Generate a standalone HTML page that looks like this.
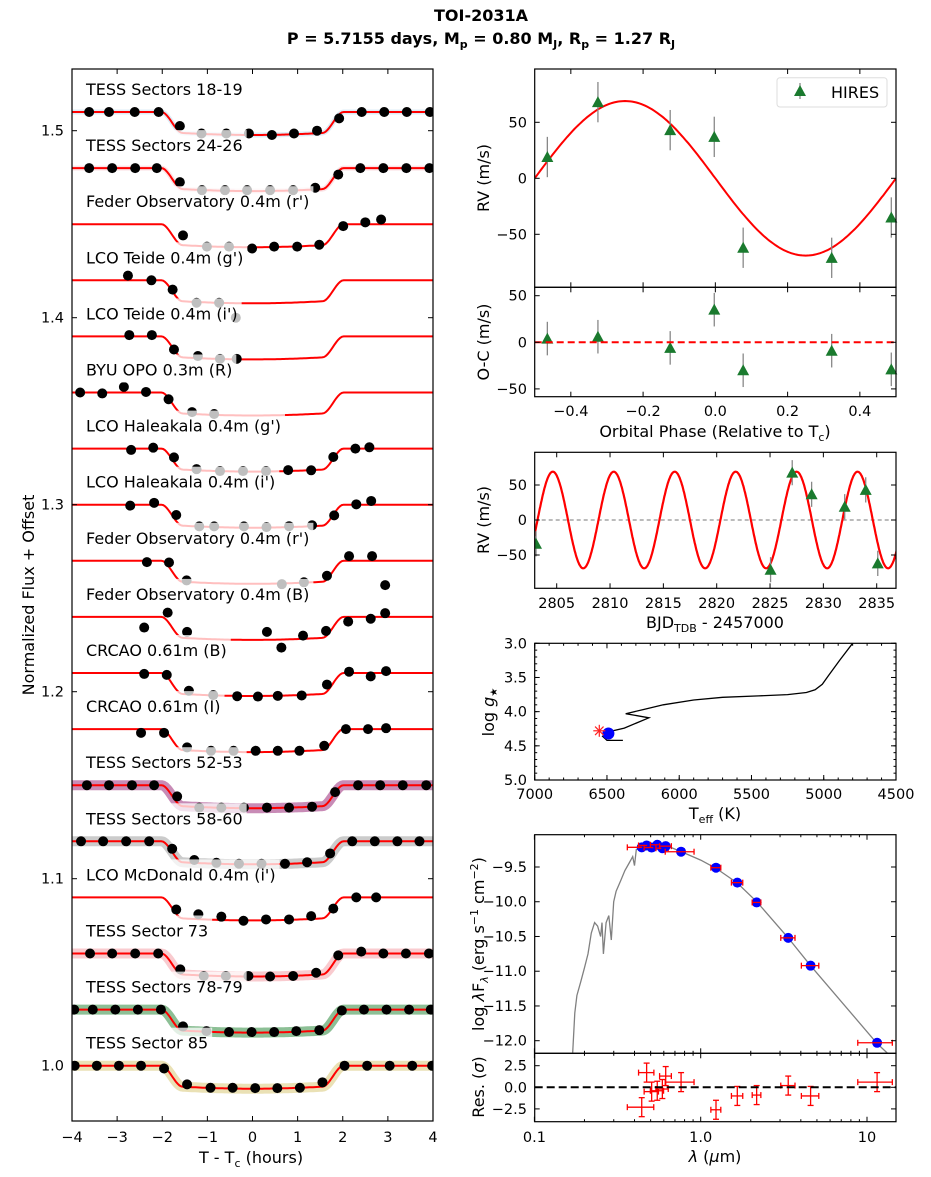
<!DOCTYPE html>
<html><head><meta charset="utf-8"><style>
html,body{margin:0;padding:0;background:#fff;}
svg{display:block;font-family:"DejaVu Sans","Liberation Sans",sans-serif;}
</style></head><body>
<svg id="fig" width="931" height="1177" viewBox="0 0 931 1177" xmlns="http://www.w3.org/2000/svg">
<rect width="931" height="1177" fill="#fff"/>
<text x="481" y="21" text-anchor="middle" font-size="16" font-weight="bold">TOI-2031A</text>
<text x="481" y="44" text-anchor="middle" font-size="16" font-weight="bold">P = 5.7155 days, M<tspan font-size="11" dy="4">p</tspan><tspan dy="-4"> = 0.80 M</tspan><tspan font-size="11" dy="4">J</tspan><tspan dy="-4">, R</tspan><tspan font-size="11" dy="4">p</tspan><tspan dy="-4"> = 1.27 R</tspan><tspan font-size="11" dy="4">J</tspan></text>
</svg>
<script>
// ---------- Light-curve data ----------
const lcLabels = ["TESS Sectors 18-19","TESS Sectors 24-26","Feder Observatory 0.4m (r')","LCO Teide 0.4m (g')","LCO Teide 0.4m (i')","BYU OPO 0.3m (R)","LCO Haleakala 0.4m (g')","LCO Haleakala 0.4m (i')","Feder Observatory 0.4m (r')","Feder Observatory 0.4m (B)","CRCAO 0.61m (B)","CRCAO 0.61m (I)","TESS Sectors 52-53","TESS Sectors 58-60","LCO McDonald 0.4m (i')","TESS Sector 73","TESS Sectors 78-79","TESS Sector 85"];
const lcOffsets = [1.51,1.48,1.45,1.42,1.39,1.36,1.33,1.30,1.27,1.24,1.21,1.18,1.15,1.12,1.09,1.06,1.03,1.00];
const lcBandColors = ["#9ec9e8","#f4b0b8",null,null,null,null,null,null,null,null,null,null,"#9b2b7a","#a0a0a0",null,"#f4a0a8","#2e8b3e","#d8c878"];
const lcTimes = [
[-3.62,-3.18,-2.61,-2.08,-1.61,-1.13,-0.58,-0.08,0.43,0.92,1.43,1.92,2.42,2.92,3.42,3.93],
[-3.62,-3.11,-2.60,-2.12,-1.61,-1.12,-0.61,-0.12,0.39,0.90,1.39,1.90,2.39,2.90,3.41,3.92],
[-1.54,-1.01,-0.52,-0.01,0.48,0.99,1.48,2.01,2.50,2.85],
[-2.76,-2.24,-1.77,-1.24,-0.74,-0.37],
[-2.73,-2.23,-1.74,-1.21,-0.72,-0.35],
[-3.82,-3.33,-2.85,-2.36,-1.86,-1.34,-0.85],
[-2.69,-2.2,-1.74,-1.24,-0.72,-0.21,0.30,0.79,1.30,1.79,2.28,2.59],
[-2.71,-2.18,-1.69,-1.18,-0.85,-0.19,0.31,0.81,1.32,1.81,2.30,2.63],
[-2.34,-1.85,-1.46,0.65,1.14,1.65,2.14,2.65],
[-2.40,-1.88,-1.45,0.32,0.64,1.12,1.63,2.12,2.62,2.94,2.94],
[-2.40,-1.9,-1.41,-0.87,-0.34,0.12,0.56,1.09,1.65,2.14,2.62,2.96],
[-2.47,-1.96,-1.45,-0.92,-0.42,0.07,0.56,1.04,1.59,2.07,2.56,2.96],
[-3.67,-3.18,-2.67,-2.18,-1.67,-1.18,-0.69,-0.19,0.32,0.81,1.32,1.83,2.34,2.83,3.33,3.85],
[-3.8,-3.31,-2.8,-2.29,-1.78,-1.29,-0.8,-0.3,0.2,0.72,1.21,1.72,2.21,2.71,3.21,3.7],
[-1.69,-1.2,-0.69,-0.2,0.3,0.81,1.3,1.79,2.3,2.74],
[-3.6,-3.11,-2.6,-2.09,-1.6,-1.08,-0.59,-0.09,0.39,0.9,1.41,1.9,2.41,2.9,3.4,3.91],
[-3.95,-3.54,-3.04,-2.54,-2.03,-1.54,-1.02,-0.52,-0.02,0.48,0.97,1.48,1.98,2.47,2.97,3.47,3.95],
[-3.94,-3.45,-2.96,-2.47,-1.96,-1.45,-0.93,-0.44,0.06,0.55,1.05,1.55,2.04,2.54,3.04,3.54,3.98]];
const lcDeltasPpt = [
[0,0,0,0,-7.5,-11.5,-11.5,-11.5,-12.3,-11.5,-10,-3.4,0,0,0,0],
[0,0,0,0,-7.5,-11.8,-11.8,-11.8,-11.8,-11.8,-10.5,-3.5,0,0,0,0],
[-6,-12,-12,-13,-12,-12,-11,-1,1,2.5],
[2.5,0,-5,-12,-12,-20],
[0.7,0.7,-7,-10.5,-12,-12],
[0,-0.5,3,0.3,-3.6,-10.5,-11.5],
[-0.7,0.5,-4.7,-11,-12,-12,-12,-11.5,-11.6,-4.5,0,0.7],
[-0.5,1,-5.5,-11.6,-11.6,-11.6,-12,-11.5,-11,-5.7,0.2,2],
[-0.7,-0.9,-10.5,-12.5,-11.5,-8,2.5,2.5],
[-5.7,2.3,-8,-8,-16.4,-10,-7.5,-2.5,-1,2,17],
[-0.5,-1,-9.5,-11.8,-12.4,-12.6,-12.2,-12,-6.2,0.7,-1.8,1],
[-2,-2,-9.8,-11.6,-11.6,-11.6,-11.6,-11.6,-8.9,0,0,0.5],
[0,0,0,0,-6,-12,-12,-12,-12,-12,-11.5,-3.7,0,0,0,0],
[0,0,0,0,-4,-10,-11.5,-12,-12,-12,-11.2,-6.5,0,0,0,0],
[-6.5,-9,-10.3,-12.5,-11.8,-11.8,-10,-6,0,0],
[0,0,0,0,-8.5,-12,-12,-12,-12.3,-12,-10.3,-1,1,0,0,0],
[0,0,0,0,0,-9,-11.5,-12,-12,-12,-11.5,-11,-0.5,0,0,0,0],
[0,0,0,0,-1.5,-10,-11.8,-11.8,-12,-12,-11.8,-8.9,0,0,0,0,0]];
const lcTicksX = [-4,-3,-2,-1,0,1,2,3,4];
const lcTicksY = [1.0,1.1,1.2,1.3,1.4,1.5];
const transitDepthPpt = 12.3;

// ---------- RV phase data ----------
const rvPhase = [-0.465,-0.325,-0.125,-0.003,0.077,0.322,0.487];
const rvValues = [19,68,43,37,-62,-71,-35];
const rvErrors = [18,18,18,18,18,18,18];
const ocValues = [4,6,-6,35,-30,-9,-29];
const rvK = 69;
const phaseTicks = [-0.4,-0.2,0.0,0.2,0.4];
const rvTicks = [-50,0,50];
// ---------- RV time data ----------
const rvTimes = [2803.06,2825.05,2827.08,2828.9,2832.0,2833.97,2835.1];
const rvTimeValues = [-34,-71,67.6,36.7,19,43,-62];
const rvPeriod = 5.7155;
const rvTc = 2806.06;
const timeTicks = [2805,2810,2815,2820,2825,2830,2835];
// ---------- HR diagram ----------
const trackTeff = [6390,6500,6530,6480,6380,6210,6370,6250,6110,5900,5700,5450,5250,5120,5060,5010,4970,4890,4800];
const trackLogg = [4.42,4.42,4.36,4.29,4.24,4.09,4.03,3.97,3.90,3.83,3.79,3.77,3.75,3.72,3.68,3.60,3.48,3.25,3.0];
const starTeff = 6490, starLogg = 4.32;
const obsTeff = 6553, obsLogg = 4.28;
const teffTicks = [7000,6500,6000,5500,5000,4500];
const loggTicks = [3.0,3.5,4.0,4.5,5.0];
// ---------- SED ----------
const sedLam = [0.442,0.473,0.507,0.548,0.588,0.616,0.762,1.236,1.66,2.17,3.36,4.58,11.5];
const sedFlux = [-9.217,-9.19,-9.22,-9.18,-9.23,-9.20,-9.28,-9.51,-9.725,-10.01,-10.52,-10.92,-12.03];
const sedLamErr = [0.08,0.05,0.05,0.05,0.05,0.05,0.15,0.085,0.13,0.13,0.33,0.55,2.7];
const sedRes = [-2.3,1.7,-0.5,-0.4,-0.2,1.3,0.6,-2.6,-1.0,-0.9,0.2,-1.0,0.6];
const sedResErr = [1.1,1.1,1.1,1.1,1.1,1.1,1.1,1.1,1.1,1.1,1.1,1.1,1.1];
const modelLam = [0.17,0.175,0.18,0.19,0.2,0.21,0.22,0.23,0.24,0.25,0.255,0.26,0.27,0.28,0.29,0.3,0.31,0.33,0.35,0.37,0.39,0.40,0.41,0.45,0.5,0.55,0.65,0.8,1.0,1.24,1.66,2.17,3.36,4.58,11.5,15];
const modelFlux = [-12.17,-11.6,-11.35,-11.15,-10.95,-10.75,-10.45,-10.3,-10.35,-10.5,-10.3,-10.75,-10.3,-10.2,-10.55,-10.0,-9.85,-9.7,-9.55,-9.45,-9.35,-9.48,-9.25,-9.2,-9.17,-9.17,-9.21,-9.3,-9.4,-9.52,-9.73,-10.0,-10.52,-10.92,-12.04,-12.3];
const sedTicksY = [-9.5,-10.0,-10.5,-11.0,-11.5,-12.0];
const resTicksY = [2.5,0.0,-2.5];
const lamTicks = [0.1,1.0,10];

// ---------- helpers ----------
const NS = "http://www.w3.org/2000/svg";
const svg = document.getElementById('fig');
function mk(tag, attrs, parent){ const e = document.createElementNS(NS, tag); for (const k in attrs) e.setAttribute(k, attrs[k]); (parent||svg).appendChild(e); return e; }
function lin(d0,d1,p0,p1){ return v => p0 + (v-d0)*(p1-p0)/(d1-d0); }
function frame(x0,y0,x1,y1,name){
  const r = mk('rect',{x:x0,y:y0,width:x1-x0,height:y1-y0,fill:'none',stroke:'#000','stroke-width':1.2});
  
  
}
function xticks(vals,X,y0,y1,len,labels,labY,fmt,g){
  vals.forEach(v=>{
    const x = X(v);
    mk('line',{x1:x,x2:x,y1:y1,y2:y1-len,stroke:'#000','stroke-width':1},g);
    mk('line',{x1:x,x2:x,y1:y0,y2:y0+len,stroke:'#000','stroke-width':1},g);
    if (labels){
      const t = mk('text',{x:x,y:labY,'text-anchor':'middle','font-size':14.5},g);
      t.textContent = fmt(v);
      
      
    }
  });
}
function yticks(vals,Y,x0,x1,len,labels,labX,fmt,g){
  vals.forEach(v=>{
    const y = Y(v);
    mk('line',{x1:x0,x2:x0+len,y1:y,y2:y,stroke:'#000','stroke-width':1},g);
    mk('line',{x1:x1,x2:x1-len,y1:y,y2:y,stroke:'#000','stroke-width':1},g);
    if (labels){
      const t = mk('text',{x:labX,y:y+5,'text-anchor':'end','font-size':14.5},g);
      t.textContent = fmt(v);
      
      
    }
  });
}
function minus(s){ return String(s).replace('-','\u2212'); }
function triangle(cx,cy,g,fill){
  return mk('polygon',{points:`${cx},${cy-6} ${cx-6},${cy+5} ${cx+6},${cy+5}`,fill:fill||'#1a7a2e'},g);
}
function lineText(x,y,txt,size,anchor,rot,g){
  const t = mk('text',{x:x,y:y,'font-size':size,'text-anchor':anchor||'middle'},g);
  if (rot) t.setAttribute('transform',`rotate(-90 ${x} ${y})`);
  t.innerHTML = txt;
  return t;
}

// ================= LEFT: light curves =================
const LX = lin(-4,4,72,433);
const LY = f => 1065.7 - (f-1.0)*1870;
function model(t){
  const a = Math.abs(t), t1 = 1.55, t2 = 2.02;
  const edge = transitDepthPpt*(1-0.09);
  if (a >= t2) return 0;
  if (a <= t1) return -transitDepthPpt*(1-0.09*(a/t1)*(a/t1));
  const s = (a-t1)/(t2-t1); const sm = s*s*(3-2*s);
  return -edge*(1-sm);
}
const gL = mk('g',{});  
const clipL = mk('clipPath',{id:'clipL'}); mk('rect',{x:72,y:69,width:361,height:1052},clipL);
const gLC = mk('g',{'clip-path':'url(#clipL)'},gL);
lcOffsets.forEach((off,i)=>{
  const base = LY(off);
  let pts = [];
  for (let t=-4.1; t<=4.1; t+=0.04) pts.push(`${LX(t).toFixed(1)},${(base - model(t)*1.87).toFixed(1)}`);
  if (lcBandColors[i]){
    const thin = i<2;
    const band = mk('polyline',{points:pts.join(' '),fill:'none',stroke:lcBandColors[i],'stroke-width':thin?5:10,'stroke-opacity':thin?0.35:0.55,'stroke-linejoin':'round'},gLC);
    
    
  }
  const ml = mk('polyline',{points:pts.join(' '),fill:'none',stroke:'#ff0000','stroke-width':2},gLC);
  
  
  lcTimes[i].forEach((t,j)=>{
    const c = mk('circle',{cx:LX(t),cy:base - lcDeltasPpt[i][j]*1.87,r:5,fill:'#000'},gLC);
    
    
  });
});
lcOffsets.forEach((off,i)=>{
  const cy = LY(off) - 23;
  const t = mk('text',{x:86,y:cy+6,'font-size':16},gLC);
  t.textContent = lcLabels[i];
  
  
  const w = t.getComputedTextLength();
  const box = mk('rect',{x:82,y:cy-15,width:w+8,height:28,fill:'#fff','fill-opacity':0.75},gLC);
  
  
  gLC.insertBefore(box,t);
});
frame(72,69,433,1121,'light-curve-frame');
xticks(lcTicksX,LX,69,1121,5,true,1142,v=>minus(v),gL);
yticks(lcTicksY,LY,72,433,5,true,64,v=>v.toFixed(1),gL);
let tt = lineText(251,1163,'T - T<tspan font-size="11" dy="4">c</tspan><tspan dy="-4"> (hours)</tspan>',16,'middle',false,gL);
 
tt = lineText(34,595,'Normalized Flux + Offset',16,'middle',true,gL);
 

// ================= RV phase =================
const gR = mk('g',{});  
const PX = lin(-0.5,0.5,534.7,896);
const RY = lin(0,50,178.3,122.3);
const OY = lin(0,50,342.3,295.7);
const clipR = mk('clipPath',{id:'clipR'}); mk('rect',{x:534.7,y:69,width:361.3,height:218.3},clipR);
let pp=[];
for (let p=-0.5;p<=0.5001;p+=0.005) pp.push(`${PX(p).toFixed(1)},${RY(-rvK*Math.sin(2*Math.PI*p)).toFixed(1)}`);
let el = mk('polyline',{points:pp.join(' '),fill:'none',stroke:'#ff0000','stroke-width':2,'clip-path':'url(#clipR)'},gR);


rvPhase.forEach((p,i)=>{
  const x=PX(p);
  mk('line',{x1:x,x2:x,y1:RY(rvValues[i]-rvErrors[i]),y2:RY(rvValues[i]+rvErrors[i]),stroke:'#888','stroke-width':1.3},gR);
  const m = triangle(x,RY(rvValues[i]),gR);
  
  
  mk('line',{x1:x,x2:x,y1:OY(ocValues[i]-rvErrors[i]),y2:OY(ocValues[i]+rvErrors[i]),stroke:'#888','stroke-width':1.3},gR);
  const o = triangle(x,OY(ocValues[i]),gR);
  
  
});
el = mk('line',{x1:534.7,x2:896,y1:OY(0),y2:OY(0),stroke:'#ff0000','stroke-width':2,'stroke-dasharray':'7,4'},gR);


frame(534.7,69,896,287.3,'rv-frame');
frame(534.7,287.3,896,396.7,'oc-frame');
xticks(phaseTicks,PX,69,287.3,5,false,0,null,gR);
xticks(phaseTicks,PX,287.3,396.7,5,true,416,v=>minus(v.toFixed(1)),gR);
yticks(rvTicks,RY,534.7,896,5,true,527,v=>minus(v),gR);
yticks(rvTicks,OY,534.7,896,5,true,527,v=>minus(v),gR);
tt = lineText(715,437,'Orbital Phase (Relative to T<tspan font-size="11" dy="4">c</tspan><tspan dy="-4">)</tspan>',16,'middle',false,gR);
 
tt = lineText(489,178,'RV (m/s)',16,'middle',true,gR);
 
tt = lineText(489,342,'O-C (m/s)',16,'middle',true,gR);
 
const leg = mk('g',{},gR);  
mk('rect',{x:777,y:77.7,width:110,height:29.3,rx:3,fill:'#fff',stroke:'#ddd'},leg);
mk('line',{x1:800,x2:800,y1:83,y2:99,stroke:'#888','stroke-width':1.3},leg);
el = triangle(800,91,leg);  
el = lineText(831,98,'HIRES',16,'start',false,leg);  

// ================= RV time =================
const gT = mk('g',{});  
const TX = lin(2805,2835,556.7,876.7);
const TY = lin(0,50,520,485);
const clipT = mk('clipPath',{id:'clipT'}); mk('rect',{x:534.7,y:452.3,width:361.3,height:136},clipT);
el = mk('line',{x1:534.7,x2:896,y1:TY(0),y2:TY(0),stroke:'#777','stroke-width':1,'stroke-dasharray':'4,3'},gT);
 
pp=[];
for (let t=2802.9;t<=2836.9;t+=0.04) pp.push(`${TX(t).toFixed(1)},${TY(-rvK*Math.sin(2*Math.PI*(t-rvTc)/rvPeriod)).toFixed(1)}`);
el = mk('polyline',{points:pp.join(' '),fill:'none',stroke:'#ff0000','stroke-width':2.2,'clip-path':'url(#clipT)'},gT);
 
const gTP = mk('g',{'clip-path':'url(#clipT)'},gT);
rvTimes.forEach((t,i)=>{
  const x=TX(t);
  mk('line',{x1:x,x2:x,y1:TY(rvTimeValues[i]-18),y2:TY(rvTimeValues[i]+18),stroke:'#888','stroke-width':1.3},gTP);
  const m = triangle(x,TY(rvTimeValues[i]),gTP);
  
  
});
frame(534.7,452.3,896,588.3,'rv-time-frame');
xticks(timeTicks,TX,452.3,588.3,5,true,608,v=>String(v),gT);
yticks(rvTicks,TY,534.7,896,5,true,527,v=>minus(v),gT);
tt = lineText(715,628,'BJD<tspan font-size="11" dy="4">TDB</tspan><tspan dy="-4"> - 2457000</tspan>',16,'middle',false,gT);
 
tt = lineText(489,520,'RV (m/s)',16,'middle',true,gT);
 

// ================= HR diagram =================
const gH = mk('g',{});  
const HX = lin(7000,4500,534.7,896);
const HY = lin(3,5,643.3,780);
const clipH = mk('clipPath',{id:'clipH'}); mk('rect',{x:534.7,y:643.3,width:361.3,height:136.7},clipH);
el = mk('polyline',{points:trackTeff.map((t,i)=>`${HX(t).toFixed(1)},${HY(trackLogg[i]).toFixed(1)}`).join(' '),fill:'none',stroke:'#000','stroke-width':1.3,'clip-path':'url(#clipH)'},gH);
 
el = mk('circle',{cx:HX(starTeff),cy:HY(starLogg),r:6,fill:'#0000ff'},gH);
 
const ast = mk('g',{stroke:'#ff2020','stroke-width':1.2},gH);
 
for (let k=0;k<4;k++){ const a=k*Math.PI/4; const cx=HX(obsTeff), cy=HY(obsLogg);
  mk('line',{x1:cx-6*Math.cos(a),y1:cy-6*Math.sin(a),x2:cx+6*Math.cos(a),y2:cy+6*Math.sin(a)},ast); }
frame(534.7,643.3,896,780,'hr-frame');
const teffMinor=[]; for(let v=7000; v>=4500; v-=100) teffMinor.push(v);
const loggMinor=[]; for(let v=3.0; v<=5.001; v+=0.1) loggMinor.push(v);
xticks(teffMinor,HX,643.3,780,2.5,false,0,null,gH);
yticks(loggMinor,HY,534.7,896,2.5,false,0,null,gH);
xticks(teffTicks,HX,643.3,780,5,true,799,v=>String(v),gH);
yticks(loggTicks,HY,534.7,896,5,true,527,v=>v.toFixed(1),gH);
tt = lineText(715,819,'T<tspan font-size="11" dy="4">eff</tspan><tspan dy="-4"> (K)</tspan>',16,'middle',false,gH);
 
tt = lineText(494,712,'log<tspan font-style="italic"> g</tspan><tspan font-size="10" dy="3">★</tspan>',16,'middle',true,gH);
 

// ================= SED =================
const gS = mk('g',{});  
const SX = l => 700.7 + Math.log10(l)*166.3;
const SY = lin(-9.5,-12,867,1040.7);
const RSY = lin(0,2.5,1087.3,1065.7);
const clipS = mk('clipPath',{id:'clipS'}); mk('rect',{x:534.7,y:834.7,width:361.3,height:218.6},clipS);
el = mk('polyline',{points:modelLam.map((l,i)=>`${SX(l).toFixed(1)},${SY(modelFlux[i]).toFixed(1)}`).join(' '),fill:'none',stroke:'#808080','stroke-width':1.3,'clip-path':'url(#clipS)'},gS);
 
sedLam.forEach((l,i)=>{
  const x=SX(l), y=SY(sedFlux[i]);
  const c = mk('circle',{cx:x,cy:y,r:5,fill:'#0000ff'},gS);
  
  
  const xl=SX(l-sedLamErr[i]), xr=SX(l+sedLamErr[i]);
  mk('line',{x1:xl,x2:xr,y1:y,y2:y,stroke:'#ff0000','stroke-width':1.3},gS);
  mk('line',{x1:xl,x2:xl,y1:y-3,y2:y+3,stroke:'#ff0000','stroke-width':1.3},gS);
  mk('line',{x1:xr,x2:xr,y1:y-3,y2:y+3,stroke:'#ff0000','stroke-width':1.3},gS);
  const ry=RSY(sedRes[i]);
  const rb = mk('g',{stroke:'#ff0000','stroke-width':1.3},gS);
  
  
  mk('line',{x1:xl,x2:xr,y1:ry,y2:ry},rb);
  mk('line',{x1:xl,x2:xl,y1:ry-3,y2:ry+3},rb);
  mk('line',{x1:xr,x2:xr,y1:ry-3,y2:ry+3},rb);
  const yt=RSY(sedRes[i]+sedResErr[i]), yb=RSY(sedRes[i]-sedResErr[i]);
  mk('line',{x1:x,x2:x,y1:yt,y2:yb},rb);
  mk('line',{x1:x-3,x2:x+3,y1:yt,y2:yt},rb);
  mk('line',{x1:x-3,x2:x+3,y1:yb,y2:yb},rb);
});
el = mk('line',{x1:534.7,x2:896,y1:RSY(0),y2:RSY(0),stroke:'#000','stroke-width':2,'stroke-dasharray':'8,4'},gS);
 
frame(534.7,834.7,896,1053.3,'sed-frame');
frame(534.7,1053.3,896,1121.7,'residual-frame');
const lamMinor=[0.2,0.3,0.4,0.5,0.6,0.7,0.8,0.9,2,3,4,5,6,7,8,9];
xticks(lamMinor,SX,834.7,1053.3,2.5,false,0,null,gS);
xticks(lamMinor,SX,1053.3,1121.7,2.5,false,0,null,gS);
xticks(lamTicks,SX,834.7,1053.3,5,false,0,null,gS);
xticks(lamTicks,SX,1053.3,1121.7,5,true,1142,v=>v===10?'10':v.toFixed(1),gS);
yticks(sedTicksY,SY,534.7,896,5,true,527,v=>minus(v.toFixed(1)),gS);
yticks(resTicksY,RSY,534.7,896,5,true,527,v=>minus(v.toFixed(1)),gS);
tt = lineText(715,1162,'<tspan font-style="italic">λ</tspan> (<tspan font-style="italic">μ</tspan>m)',16,'middle',false,gS);
 
tt = lineText(484,944,'log <tspan font-style="italic">λ</tspan>F<tspan font-size="11" dy="4" font-style="italic">λ</tspan><tspan dy="-4"> (erg s</tspan><tspan font-size="11" dy="-6">−1</tspan><tspan dy="6"> cm</tspan><tspan font-size="11" dy="-6">−2</tspan><tspan dy="6">)</tspan>',16,'middle',true,gS);
 
tt = lineText(484,1087,'Res. (<tspan font-style="italic">σ</tspan>)',16,'middle',true,gS);
 
</script>
</body></html>
